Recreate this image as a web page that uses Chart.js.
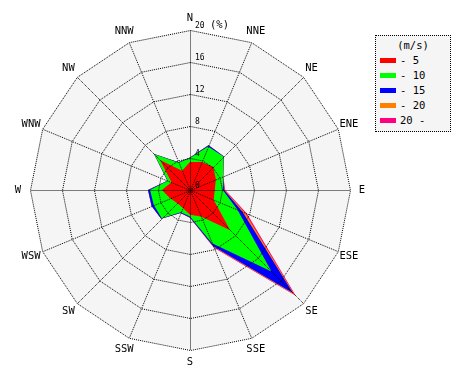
<!DOCTYPE html>
<html>
<head>
<meta charset="utf-8">
<script src="https://cdn.jsdelivr.net/npm/chart.js@4"></script>
<style>
  html, body { margin:0; padding:0; background:#fff; }
  #wrap { position:relative; width:470px; height:380px; }
  #legend {
    position:absolute; left:375px; top:35px; width:76px; height:97px;
    box-sizing:border-box; border:1px dotted #000; background:#f5f5f5;
    font:10.5px 'DejaVu Sans Mono', monospace; color:#000;
  }
  #legend .ttl { text-align:center; line-height:15px; margin-top:2px; }
  #legend .row { position:relative; height:15px; line-height:15px; }
  #legend .sw { position:absolute; left:4px; top:5px; width:16px; height:5px; }
  #legend .tx { position:absolute; left:24px; top:0; }
</style>
</head>
<body>
<div id="wrap">
  <canvas id="rose" width="470" height="380"></canvas>
  <div id="legend"><div class="ttl">(m/s)</div></div>
</div>
<script>
// wind directions, clockwise from north
const directions = ['N','NNE','NE','ENE','E','ESE','SE','SSE','S','SSW','SW','WSW','W','WNW','NW','NNW'];
const ringTicks = [0, 4, 8, 12, 16, 20];

const upTo5  = [3.5, 3.8, 4.1, 3.5, 3.1, 3.2,  7.1, 3.6, 3.1, 2.4, 2.3, 2.7, 3.5, 2.5, 5.3, 2.6];
const upTo10 = [4.0, 5.9, 5.9, 4.5, 4.1, 6.4, 14.4, 7.2, 3.3, 3.0, 5.0, 4.9, 5.0, 3.0, 6.3, 3.7];
const upTo15 = [4.05, 6.05, 5.95, 4.5, 4.25, 7.1, 18.2, 7.6, 3.45, 3.1, 5.1, 5.2, 5.25, 3.05, 6.35, 3.75];
const upTo20 = [4.05, 6.05, 5.95, 4.5, 4.3, 7.45, 18.5, 7.7, 3.45, 3.1, 5.1, 5.2, 5.25, 3.05, 6.35, 3.75];
const allSpeeds = [4.05, 6.05, 5.95, 4.5, 4.4, 7.7, 18.7, 7.8, 3.5, 3.1, 5.1, 5.2, 5.25, 3.05, 6.35, 3.75];

const speedLabels = ['- 5', '- 10', '- 15', '- 20', '20 -'];
const speedColors = ['#ff0000', '#00ff00', '#0000ff', '#ff8000', '#ff0080'];
const bands = [upTo5, upTo10, upTo15, upTo20, allSpeeds];

// legend
const lg = document.getElementById('legend');
speedLabels.forEach((t, i) => {
  const row = document.createElement('div');
  row.className = 'row';
  row.innerHTML = `<span class="sw" style="background:${speedColors[i]}"></span><span class="tx">${t}</span>`;
  lg.appendChild(row);
});

function ringPath(ctx, r, dist){
  ctx.beginPath();
  directions.forEach((d, i) => {
    const p = r.getPointPosition(i, dist);
    if(i === 0) ctx.moveTo(p.x, p.y); else ctx.lineTo(p.x, p.y);
  });
  ctx.closePath();
}

// background under the data, dotted grid + labels on top of it
const roseGrid = {
  id: 'roseGrid',
  beforeDatasetsDraw(chart){
    const r = chart.scales.r, ctx = chart.ctx;
    ctx.save();
    ringPath(ctx, r, r.getDistanceFromCenterForValue(ringTicks[ringTicks.length-1]));
    ctx.fillStyle = '#f5f5f5';
    ctx.fill();
    ctx.restore();
  },
  afterDatasetsDraw(chart){
    const r = chart.scales.r, ctx = chart.ctx;
    const outer = r.getDistanceFromCenterForValue(ringTicks[ringTicks.length-1]);
    ctx.save();
    ctx.translate(0.5, 0.5);
    ctx.strokeStyle = '#000';
    ctx.lineWidth = 1;
    ctx.setLineDash([1, 1]);
    ringTicks.slice(1).forEach(v => {
      ringPath(ctx, r, r.getDistanceFromCenterForValue(v));
      ctx.stroke();
    });
    directions.forEach((d, i) => {
      const p = r.getPointPosition(i, outer);
      ctx.beginPath();
      ctx.moveTo(r.xCenter, r.yCenter);
      ctx.lineTo(p.x, p.y);
      ctx.stroke();
    });
    ctx.restore();

    ctx.save();
    ctx.fillStyle = '#000';
    // ring values along the north spoke
    ctx.font = '8px "DejaVu Sans Mono", monospace';
    ctx.textAlign = 'left';
    ctx.textBaseline = 'bottom';
    ringTicks.forEach(v => {
      const y = r.yCenter - r.getDistanceFromCenterForValue(v);
      ctx.fillText(String(v), r.xCenter + 5, y);
    });
    ctx.font = '10.5px "DejaVu Sans Mono", monospace';
    ctx.fillText('(%)', r.xCenter + 20, r.yCenter - outer + 1);
    // compass labels
    ctx.textAlign = 'center';
    ctx.textBaseline = 'middle';
    directions.forEach((d, i) => {
      const p = r.getPointPosition(i, outer + 12);
      ctx.fillText(d, p.x, p.y);
    });
    ctx.restore();
  }
};

new Chart(document.getElementById('rose'), {
  type: 'radar',
  data: {
    labels: directions,
    datasets: bands.map((vals, i) => ({
      label: speedLabels[i],
      data: vals,
      backgroundColor: speedColors[i],
      borderColor: speedColors[i],
      borderWidth: 0,
      fill: true,
      pointRadius: 0,
      tension: 0
    }))
  },
  options: {
    responsive: false,
    animation: false,
    layout: { padding: { left: 30, top: 30, right: 120, bottom: 30 } },
    plugins: { legend: { display: false }, tooltip: { enabled: false } },
    scales: {
      r: {
        min: 0, max: 20,
        ticks: { display: false, stepSize: 4 },
        grid: { display: false },
        angleLines: { display: false },
        pointLabels: { display: false }
      }
    }
  },
  plugins: [roseGrid]
});
</script>
</body>
</html>
